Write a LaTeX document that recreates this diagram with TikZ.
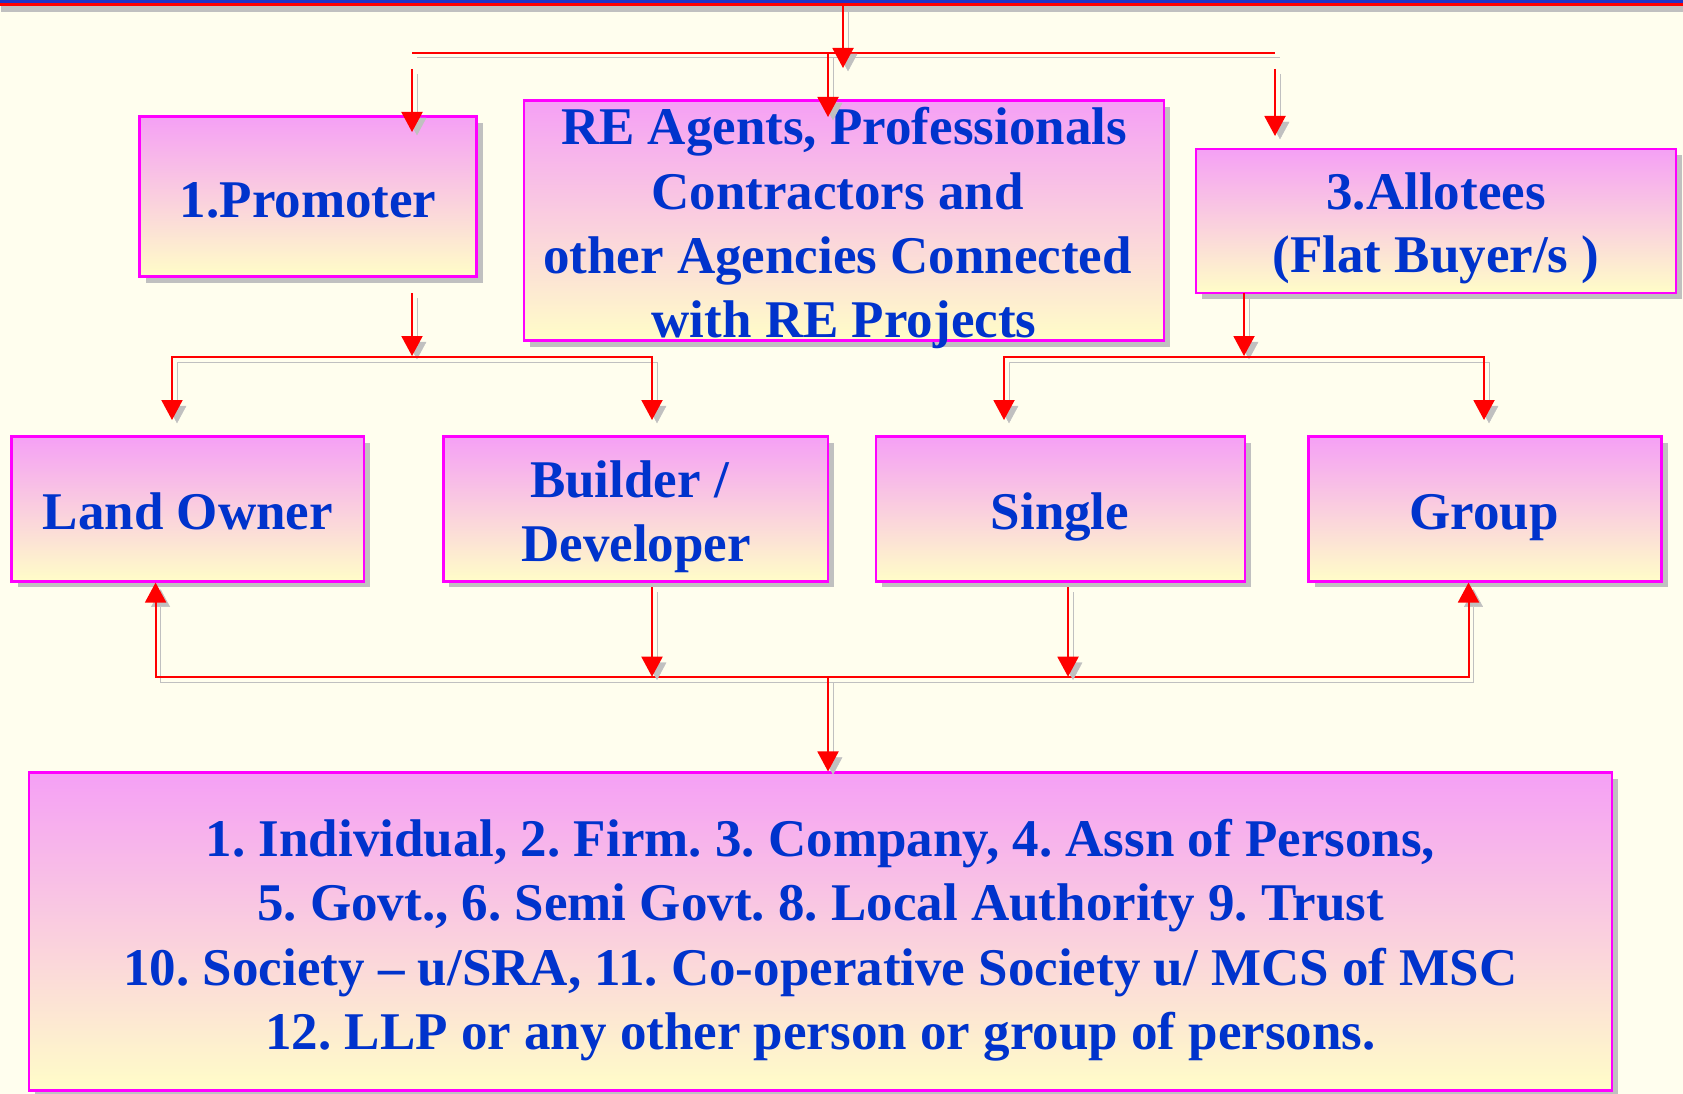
\documentclass[tikz,border=0pt]{standalone}
\usepackage{fontspec}
\setmainfont{Liberation Serif}
\usetikzlibrary{arrows.meta,shadows}
\definecolor{bg}{HTML}{FFFEEE}
\definecolor{boxtop}{HTML}{F5A0F5}
\definecolor{boxbot}{HTML}{FFFDC8}
\definecolor{bord}{HTML}{FF00FF}
\definecolor{shgray}{HTML}{C0C0C0}
\definecolor{txt}{HTML}{0033CC}
\definecolor{barblue}{HTML}{1F33C7}
\definecolor{lnred}{HTML}{FF0000}
\frenchspacing
\begin{document}
\begin{tikzpicture}[x=1pt,y=-1pt,
  box/.style={rectangle, draw=bord, line width=2.5pt, top color=boxtop, bottom color=boxbot,
     inner sep=0pt, general shadow={fill=shgray, shadow xshift=6pt, shadow yshift=-6pt}},
  lbl/.style={anchor=base, inner sep=0pt, text=txt, font=\fontsize{53}{64}\selectfont\bfseries},
  cn/.style={draw=lnred, line width=2pt,
     preaction={draw=shgray, transform canvas={shift={(5pt,-5pt)}}}},
  onetip/.style={-{Triangle[width=21pt,length=20pt]}},
  twotip/.style={{Triangle[width=21pt,length=20pt]}-{Triangle[width=21pt,length=20pt]}},
]
\useasboundingbox (0,0) rectangle (1683,1094);
\fill[bg] (0,0) rectangle (1683,1094);
% top bar
\fill[shgray] (1,5.7) rectangle (1683,11.7);
\fill[barblue] (0,0) rectangle (1683,3.4);
\fill[lnred] (0,3.4) rectangle (1683,5.7);

% boxes
\node[box, minimum width=337pt, minimum height=160pt] (p) at (308.2,196.7) {};
\node[box, minimum width=640pt, minimum height=240pt] (re) at (843.9,220.7) {};
\node[box, minimum width=480pt, minimum height=143.7pt] (al) at (1435.9,220.9) {};
\node[box, minimum width=352.3pt, minimum height=144.6pt] (lo) at (187.8,509) {};
\node[box, minimum width=384.6pt, minimum height=144.6pt] (bd) at (635.7,509) {};
\node[box, minimum width=369pt, minimum height=144.6pt] (sg) at (1060.5,509) {};
\node[box, minimum width=353pt, minimum height=144.6pt] (gr) at (1485,509) {};
\node[box, minimum width=1583pt, minimum height=318pt] (bt) at (820.5,931.7) {};

% texts
\node[lbl] (tp) at (308.2,217.2) {1.Promoter};
\node[lbl] (tr1) at (844,145) {RE Agents, Professionals};
\node[lbl] (tr2) at (837.5,209) {Contractors and};
\node[lbl] (tr3) at (837.5,273) {other Agencies Connected};
\node[lbl] (tr4) at (844,337) {with RE Projects};
\node[lbl] (ta1) at (1436,209) {3.Allotees};
\node[lbl] (ta2) at (1436,272.5) {(Flat Buyer/s )};
\node[lbl] (tl) at (188,529.5) {Land Owner};
\node[lbl] (tb1) at (629.5,497.5) {Builder /};
\node[lbl] (tb2) at (636,561.5) {Developer};
\node[lbl] (ts) at (1060,529.5) {Single};
\node[lbl] (tg) at (1484,529.5) {Group};
\node[lbl] (tt1) at (820.5,856) {1. Individual, 2. Firm. 3. Company, 4. Assn of Persons,};
\node[lbl] (tt2) at (820.5,920.5) {5. Govt., 6. Semi Govt. 8. Local Authority 9. Trust};
\node[lbl] (tt3) at (820.5,985) {10. Society -- u/SRA, 11. Co-operative Society u/ MCS of MSC};
\node[lbl] (tt4) at (820.5,1049.5) {12. LLP or any other person or group of persons.};

% coordinates
\coordinate (tsrc) at (843,5);
\coordinate (tend) at (843,68);
\coordinate (hl) at (412,52.7);
\coordinate (hr) at (1275,52.7);
\coordinate (a1s) at (412,69);
\coordinate (a1e) at (412,132);
\coordinate (a2s) at (828,53);
\coordinate (a2e) at (828,117);
\coordinate (a3s) at (1275,69);
\coordinate (a3e) at (1275,136);
\coordinate (pds) at (412,293);
\coordinate (pde) at (412,356);
\coordinate (pl) at (172,420);
\coordinate (pr) at (652,420);
\coordinate (ads) at (1244,292.7);
\coordinate (ade) at (1244,356);
\coordinate (al1) at (1004,420);
\coordinate (al2) at (1484,420);
\coordinate (lox) at (155.6,676.7);
\coordinate (grx) at (1468.5,676.7);
\coordinate (bds) at (652,587.3);
\coordinate (bde) at (652,676.7);
\coordinate (sgs) at (1068,587.3);
\coordinate (sge) at (1068,676.7);
\coordinate (bts) at (828,677);

% connectors
\draw[cn] (hl) -- (hr);
\draw[cn,onetip] (tsrc) -- (tend);
\draw[cn,onetip] (a1s) -- (a1e);
\draw[cn,onetip] (a2s) -- (a2e);
\draw[cn,onetip] (a3s) -- (a3e);
\draw[cn,onetip] (pds) -- (pde);
\draw[cn,twotip] (pl) -- (pl |- 0,357.3) -- (pr |- 0,357.3) -- (pr);
\draw[cn,onetip] (ads) -- (ade);
\draw[cn,twotip] (al1) -- (al1 |- 0,357.3) -- (al2 |- 0,357.3) -- (al2);
\draw[cn,twotip] (lo.south -| lox) -- (lox) -- (grx) -- (gr.south -| grx);
\draw[cn,onetip] (bds) -- (bde);
\draw[cn,onetip] (sgs) -- (sge);
\draw[cn,onetip] (bts) -- (bt.north -| bts);
\end{tikzpicture}
\end{document}
